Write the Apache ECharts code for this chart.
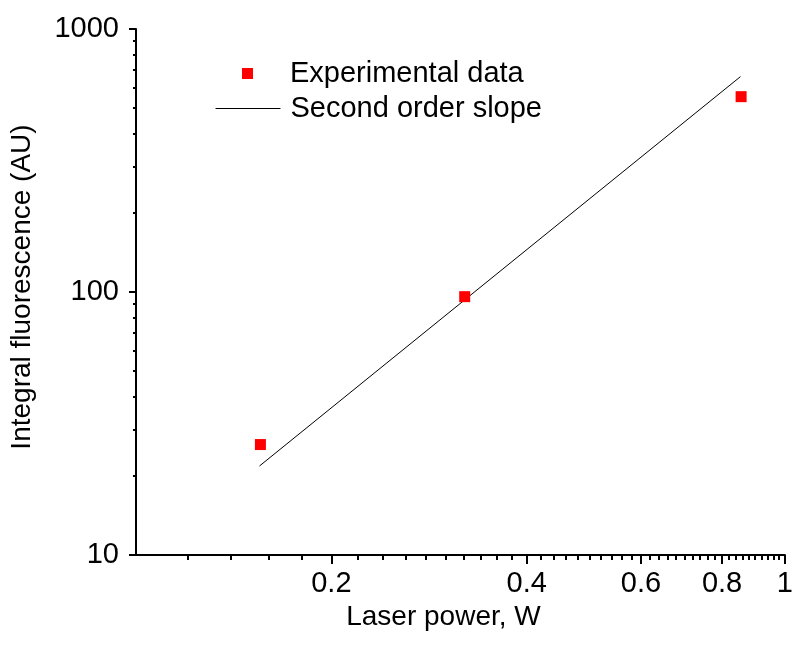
<!DOCTYPE html>
<html>
<head>
<meta charset="utf-8">
<script src="https://cdn.jsdelivr.net/npm/echarts@6/dist/echarts.min.js"></script>
<style>
html,body{margin:0;padding:0;background:#fff;}
#c{width:796px;height:649px;}
</style>
</head>
<body>
<div id="c"></div>
<script>
// Experimental data
const powerW = [0.1555, 0.321, 0.856];
const fluorescence = [26.3, 96.0, 553];
// Second order slope (straight in log-log)
const slopePower = [0.155, 0.854];
const slopeFluor = [21.8, 659];
// Axis ticks / labels
const xMajorTicks = [0.2, 0.4, 0.6, 0.8, 1];
const xMinorTicks = [0.12, 0.14, 0.16, 0.18, 0.22, 0.24, 0.26, 0.28, 0.3, 0.32, 0.34, 0.36, 0.38,
  0.42, 0.44, 0.46, 0.48, 0.5, 0.52, 0.54, 0.56, 0.58, 0.62, 0.64, 0.66, 0.68, 0.7, 0.72, 0.74, 0.76, 0.78,
  0.82, 0.84, 0.86, 0.88, 0.9, 0.92, 0.94, 0.96, 0.98];
const yMajorTicks = [10, 100, 1000];
const yMinorTicks = [20, 30, 40, 50, 60, 70, 80, 90, 200, 300, 400, 500, 600, 700, 800, 900];

const FONT = 'Liberation Sans, Arial, sans-serif';
const FS_TICK = 29;
const FS_LEG = 29;
const FS_NAME = 28;

const chart = echarts.init(document.getElementById('c'), null, {renderer: 'canvas'});

const expData = powerW.map((x, i) => [x, fluorescence[i]]);
const slopeData = slopePower.map((x, i) => [x, slopeFluor[i]]);

chart.setOption({
  animation: false,
  backgroundColor: '#fff',
  textStyle: {fontFamily: FONT, color: '#000'},
  grid: {left: 134, top: 29, right: 6, bottom: 94, containLabel: false},
  legend: [
    {
      data: [{name: 'Experimental data', icon: 'rect'}],
      left: 237, top: 54,
      itemWidth: 11, itemHeight: 11, itemGap: 0,
      textStyle: {fontFamily: FONT, fontSize: FS_LEG, color: '#000', padding: [0, 0, 0, 32]},
      selectedMode: false
    },
    {
      data: [{name: 'Second order slope', itemStyle: {opacity: 0}}],
      left: 210, top: 89,
      itemWidth: 65, itemHeight: 11, itemGap: 0,
      lineStyle: {color: '#000', width: 1},
      textStyle: {fontFamily: FONT, fontSize: FS_LEG, color: '#000', padding: [0, 0, 0, 5]},
      selectedMode: false
    }
  ],
  xAxis: [
    {
      type: 'log', logBase: 10, min: 0.1, max: 1,
      name: 'Laser power, W', nameLocation: 'middle', nameGap: 37,
      nameTextStyle: {fontFamily: FONT, fontSize: FS_NAME, color: '#000', padding: [0, 34, 0, 0]},
      axisLine: {show: true, lineStyle: {color: '#000', width: 2}},
      axisTick: {show: true, inside: false, length: 9, customValues: xMajorTicks, lineStyle: {color: '#000', width: 2}},
      axisLabel: {show: true, customValues: xMajorTicks, margin: 14, fontFamily: FONT, fontSize: FS_TICK, color: '#000',
        formatter: v => String(Math.round(v * 10) / 10)},
      splitLine: {show: false}
    },
    {
      type: 'log', logBase: 10, min: 0.1, max: 1, position: 'bottom',
      axisLine: {show: false},
      axisTick: {show: true, inside: false, length: 5, customValues: xMinorTicks, lineStyle: {color: '#000', width: 2}},
      axisLabel: {show: false},
      splitLine: {show: false}
    }
  ],
  yAxis: [
    {
      type: 'log', logBase: 10, min: 10, max: 1000,
      name: 'Integral fluorescence (AU)', nameLocation: 'middle', nameGap: 100, nameRotate: 90,
      nameTextStyle: {fontFamily: FONT, fontSize: FS_NAME, color: '#000', padding: [0, 0, 0, 10]},
      axisLine: {show: true, lineStyle: {color: '#000', width: 2}},
      axisTick: {show: true, inside: false, length: 7, customValues: yMajorTicks, lineStyle: {color: '#000', width: 2}},
      axisLabel: {show: true, customValues: yMajorTicks, margin: 17, fontFamily: FONT, fontSize: FS_TICK, color: '#000',
        formatter: v => String(Math.round(v))},
      splitLine: {show: false}
    },
    {
      type: 'log', logBase: 10, min: 10, max: 1000, position: 'left',
      axisLine: {show: false},
      axisTick: {show: true, inside: false, length: 3, customValues: yMinorTicks, lineStyle: {color: '#000', width: 2}},
      axisLabel: {show: false},
      splitLine: {show: false}
    }
  ],
  series: [
    {
      name: 'Experimental data',
      type: 'scatter',
      xAxisIndex: 0, yAxisIndex: 0,
      symbol: 'rect', symbolSize: 11,
      itemStyle: {color: '#ff0000', opacity: 1},
      data: expData,
      z: 3
    },
    {
      name: 'Second order slope',
      type: 'line',
      xAxisIndex: 0, yAxisIndex: 0,
      symbol: 'none', showSymbol: false,
      lineStyle: {color: '#000', width: 1},
      itemStyle: {color: '#000'},
      data: slopeData,
      z: 2
    }
  ]
});
</script>
</body>
</html>
